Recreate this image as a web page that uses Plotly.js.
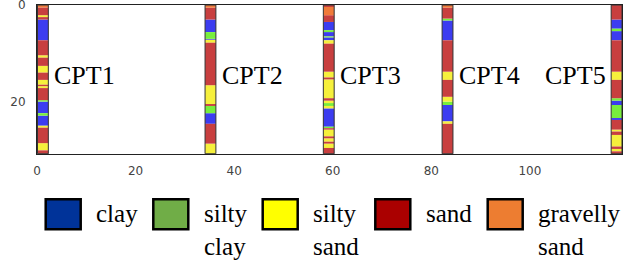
<!DOCTYPE html>
<html><head><meta charset="utf-8">
<script src="https://cdn.plot.ly/plotly-3.0.1.min.js"></script>
<style>html,body{margin:0;padding:0;background:#fff}#chart{width:625px;height:266px}</style>
</head><body><div id="chart"></div>
<script>
// soil classes: 0 clay, 1 silty clay, 2 silty sand, 3 sand, 4 gravelly sand
const soilNames = ['clay', 'silty<br>clay', 'silty<br>sand', 'sand', 'gravelly<br>sand'];
const soilLegendColors = ['#003399', '#70ad47', '#ffff00', '#aa0000', '#ed7d31'];
const soilStripColors = ['#3c3cf0', '#78ee3c', '#f6f03c', '#c83f3f', '#f07a3a'];

const cptNames = ['CPT1', 'CPT2', 'CPT3', 'CPT4', 'CPT5'];
const cptX = [1.2, 35.2, 59.2, 83.3, 117.6];

const cpt1Depth = [0, 0.5, 2.1, 2.5, 3.0, 7.3, 10.4, 10.9, 12.6, 14.0, 15.5, 16.5, 16.8, 17.2, 19.7, 20.0, 22.4, 22.9, 25.0, 25.4, 28.6, 30.1, 30.8];
const cpt1Soil  = [4, 3, 2, 3, 0, 3, 2, 3, 2, 3, 2, 3, 2, 3, 1, 0, 1, 0, 2, 3, 2, 3];
const cpt2Depth = [0, 0.55, 3.0, 5.6, 7.0, 7.2, 7.8, 16.6, 20.5, 20.9, 22.4, 24.6, 28.7, 30.8];
const cpt2Soil  = [4, 3, 0, 1, 0, 2, 3, 2, 3, 1, 0, 3, 2];
const cpt3Depth = [0, 0.4, 2.1, 3.5, 5.2, 5.6, 6.5, 6.7, 7.3, 8.0, 13.8, 15.0, 15.4, 19.3, 19.8, 20.3, 20.9, 21.4, 25.2, 25.5, 25.8, 27.2, 27.6, 28.3, 28.7, 29.6, 30.8];
const cpt3Soil  = [3, 4, 3, 0, 1, 0, 1, 0, 2, 3, 2, 3, 2, 3, 2, 1, 2, 0, 1, 3, 2, 3, 2, 3, 2, 3];
const cpt4Depth = [0, 0.55, 2.8, 3.2, 7.3, 13.8, 15.5, 19.0, 20.0, 20.7, 24.1, 24.6, 30.8];
const cpt4Soil  = [4, 3, 1, 0, 3, 2, 3, 2, 1, 0, 2, 3];
const cpt5Depth = [0, 3.0, 4.9, 5.4, 7.3, 13.8, 15.5, 19.3, 19.8, 20.7, 23.4, 23.8, 25.8, 26.2, 26.9, 29.3, 29.8, 30.3, 30.8];
const cpt5Soil  = [3, 0, 1, 0, 3, 2, 3, 1, 0, 1, 0, 3, 2, 3, 2, 3, 2, 3];

const xTicks = [0, 20, 40, 60, 80, 100];
const yTicks = [0, 20];

// ---- layout constants ----
const W = 625, H = 266, L = 37, R = 3, T = 5, B = 112;
const stripWidth = 2.2;
const pw = W - L - R, ph = H - T - B;
const pxX = X => (X - L) / pw;
const pxY = Y => (H - B - Y) / ph;
const legendBoxLeft = [45.7, 153.3, 262.7, 375.3, 487.7];
const legendBox = {w: 35, top: 199.3, bottom: 229.3, textGap: 48.5, textTop: 197.5};

const depths = [cpt1Depth, cpt2Depth, cpt3Depth, cpt4Depth, cpt5Depth];
const soils = [cpt1Soil, cpt2Soil, cpt3Soil, cpt4Soil, cpt5Soil];

const traces = soilNames.map((name, k) => {
  const x = [], base = [], y = [];
  depths.forEach((d, c) => {
    soils[c].forEach((s, i) => {
      if (s === k) { x.push(cptX[c]); base.push(d[i]); y.push(d[i + 1] - d[i]); }
    });
  });
  return {type: 'bar', x, base, y, width: stripWidth, name: name.replace('<br>', ' '),
    marker: {color: soilStripColors[k], line: {width: 0}}, showlegend: false, hoverinfo: 'skip'};
});
traces.push({type: 'bar', x: cptX, base: cptX.map(() => 0),
  y: depths.map(d => d[d.length - 1]), width: stripWidth, showlegend: false, hoverinfo: 'skip',
  marker: {color: 'rgba(0,0,0,0)', line: {color: '#333', width: 1}}});

const annotations = cptNames.map((n, c) => {
  const last = c === cptNames.length - 1;
  return {text: n, x: last ? cptX[c] - 1.7 : cptX[c] + 1.9, y: 14.5, xref: 'x', yref: 'y',
    xanchor: last ? 'right' : 'left', yanchor: 'middle', showarrow: false,
    font: {family: 'Liberation Serif', size: 26, color: '#000'}};
});
const shapes = [];
soilNames.forEach((n, k) => {
  shapes.push({type: 'rect', xref: 'paper', yref: 'paper',
    x0: pxX(legendBoxLeft[k]), x1: pxX(legendBoxLeft[k] + legendBox.w),
    y0: pxY(legendBox.bottom), y1: pxY(legendBox.top),
    fillcolor: soilLegendColors[k], line: {color: '#000', width: 2.5}});
  annotations.push({text: n, xref: 'paper', yref: 'paper',
    x: pxX(legendBoxLeft[k] + legendBox.textGap), y: pxY(legendBox.textTop),
    xanchor: 'left', yanchor: 'top', align: 'left', showarrow: false,
    font: {family: 'Liberation Serif', size: 25, color: '#000'}});
});

const layout = {
  width: W, height: H, margin: {l: L, r: R, t: T, b: B},
  paper_bgcolor: '#fff', plot_bgcolor: '#fff', barmode: 'overlay', showlegend: false,
  xaxis: {range: [0, 118.7], tickvals: xTicks, showgrid: false, zeroline: false,
    showline: true, mirror: true, linecolor: '#222', linewidth: 1,
    ticks: 'outside', ticklen: 6, tickcolor: 'rgba(0,0,0,0)', ticklabeloverflow: 'allow',
    tickfont: {family: 'DejaVu Sans', size: 12, color: '#444'}},
  yaxis: {range: [30.85, -0.01], tickvals: yTicks, showgrid: false, zeroline: false,
    showline: true, mirror: true, linecolor: '#222', linewidth: 1,
    ticks: 'outside', ticklen: 8, tickcolor: 'rgba(0,0,0,0)', ticklabeloverflow: 'allow',
    tickfont: {family: 'DejaVu Sans', size: 12, color: '#444'}},
  shapes, annotations
};
Plotly.newPlot('chart', traces, layout, {staticPlot: true, displayModeBar: false});
</script></body></html>
